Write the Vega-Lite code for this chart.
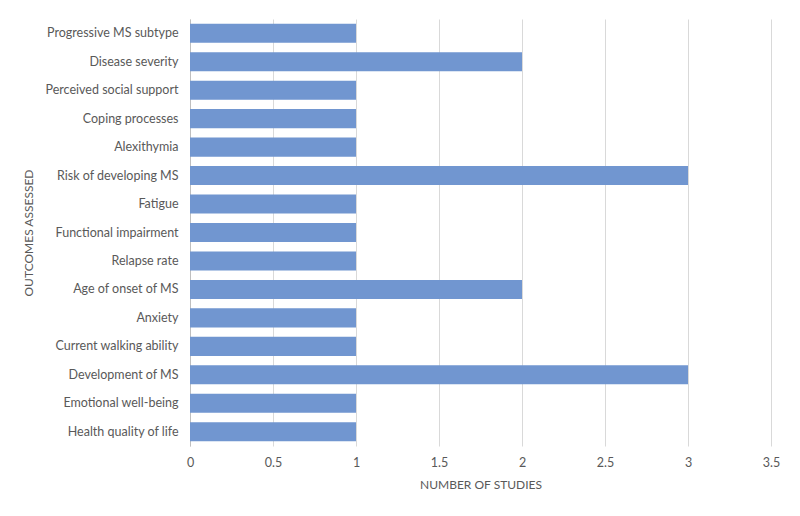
{
  "$schema": "https://vega.github.io/schema/vega-lite/v6.json",
  "autosize": "none",
  "width": 581,
  "height": 427,
  "padding": {"left": 190, "top": 19, "right": 29, "bottom": 70},
  "background": "white",
  "data": {
    "values": [
      {"outcome": "Progressive MS subtype", "studies": 1},
      {"outcome": "Disease severity", "studies": 2},
      {"outcome": "Perceived social support", "studies": 1},
      {"outcome": "Coping processes", "studies": 1},
      {"outcome": "Alexithymia", "studies": 1},
      {"outcome": "Risk of developing MS", "studies": 3},
      {"outcome": "Fatigue", "studies": 1},
      {"outcome": "Functional impairment", "studies": 1},
      {"outcome": "Relapse rate", "studies": 1},
      {"outcome": "Age of onset of MS", "studies": 2},
      {"outcome": "Anxiety", "studies": 1},
      {"outcome": "Current walking ability", "studies": 1},
      {"outcome": "Development of MS", "studies": 3},
      {"outcome": "Emotional well-being", "studies": 1},
      {"outcome": "Health quality of life", "studies": 1}
    ]
  },
  "mark": {"type": "bar", "color": "#7196d0"},
  "encoding": {
    "y": {
      "field": "outcome",
      "type": "nominal",
      "sort": null,
      "scale": {"paddingInner": 0.33, "paddingOuter": 0.165},
      "axis": {
        "title": "OUTCOMES ASSESSED",
        "titleX": -162,
        "titleY": 213.5,
        "titleAngle": -90,
        "titleAlign": "center",
        "titleBaseline": "middle",
        "titleFont": "Lato",
        "titleFontSize": 12,
        "titleFontWeight": "normal",
        "titleColor": "#595959",
        "labelFont": "Lato",
        "labelFontSize": 12.5,
        "labelColor": "#595959",
        "labelPadding": 12,
        "ticks": false,
        "domain": true,
        "domainColor": "#bfbfbf",
        "grid": false
      }
    },
    "x": {
      "field": "studies",
      "type": "quantitative",
      "scale": {"domain": [0, 3.5], "nice": false},
      "axis": {
        "title": "NUMBER OF STUDIES",
        "values": [0, 0.5, 1, 1.5, 2, 2.5, 3, 3.5],
        "format": "~g",
        "titleY": 38,
        "titleBaseline": "middle",
        "titleFont": "Lato",
        "titleFontSize": 12,
        "titleFontWeight": "normal",
        "titleColor": "#595959",
        "labelFont": "Lato",
        "labelFontSize": 12.5,
        "labelColor": "#595959",
        "labelPadding": 10,
        "labelFlush": false,
        "ticks": false,
        "domain": false,
        "grid": true,
        "gridColor": "#d9d9d9"
      }
    }
  },
  "config": {
    "view": {"stroke": null}
  }
}
